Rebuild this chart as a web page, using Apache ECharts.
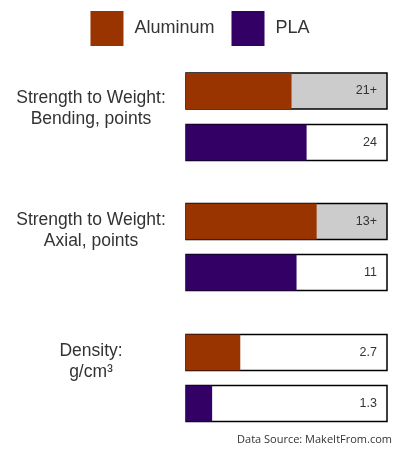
<!DOCTYPE html>
<html>
<head>
<meta charset="utf-8">
<script src="https://cdn.jsdelivr.net/npm/echarts@6/dist/echarts.min.js"></script>
<style>
  html, body { margin: 0; padding: 0; background: #fff; }
  #main { width: 400px; height: 450px; }
</style>
</head>
<body>
<div id="main"></div>
<script>
// material comparison: aluminum vs PLA
var groupNames = ['Strength to Weight:\nBending, points', 'Strength to Weight:\nAxial, points', 'Density:\ng/cm³'];
var aluminum = [21, 13, 2.7];
var pla = [24, 11, 1.3];
var aluminumLabels = ['21+', '13+', '2.7'];
var plaLabels = ['24', '11', '1.3'];
var scaleMax = [40, 20, 10];
var aluminumOpenRange = [true, true, false];

var dom = document.getElementById('main');
var myChart = echarts.init(dom, null, { renderer: 'canvas' });

var barTops = [73, 124.5, 203.5, 254.5, 334.5, 385.5];
var titleY = [109, 231, 362];
var colors = { Aluminum: '#993300', PLA: '#330066' };

var grids = [], xAxes = [], yAxes = [], series = [], graphics = [];

groupNames.forEach(function (name, g) {
    [['Aluminum', aluminum[g], aluminumLabels[g], aluminumOpenRange[g]],
     ['PLA', pla[g], plaLabels[g], false]].forEach(function (row, k) {
        var i = g * 2 + k;
        grids.push({ left: 186, width: 201, top: barTops[i], height: 36 });
        xAxes.push({
            type: 'value', gridIndex: i, min: 0, max: scaleMax[g], show: false
        });
        yAxes.push({
            type: 'category', gridIndex: i, data: [row[2]], position: 'right', z: 10,
            axisLine: { show: false }, axisTick: { show: false },
            axisLabel: { inside: true, margin: 10, color: '#333', fontSize: 12.5, fontFamily: 'Liberation Sans' }
        });
        series.push({
            name: row[0], type: 'bar', xAxisIndex: i, yAxisIndex: i,
            data: [row[1]], barWidth: 36, silent: true,
            itemStyle: { color: colors[row[0]] },
            showBackground: true,
            backgroundStyle: {
                color: row[3] ? '#cccccc' : '#ffffff',
                borderColor: '#000', borderWidth: 1.5, opacity: 1
            }
        });
    });
    graphics.push({
        type: 'text', x: 91, y: titleY[g],
        style: {
            text: name, fill: '#333', font: '17.5px "Liberation Sans"',
            textAlign: 'center', textVerticalAlign: 'middle', lineHeight: 21
        }
    });
});

graphics.push({
    type: 'text', x: 392, y: 440,
    style: {
        text: 'Data Source: MakeItFrom.com', fill: '#333', font: '11px "Open Sans"',
        textAlign: 'right', textVerticalAlign: 'middle'
    }
});

var option = {
    backgroundColor: '#fff',
    animation: false,
    legend: {
        data: ['Aluminum', 'PLA'], top: 6, left: 'center',
        icon: 'rect', itemWidth: 33, itemHeight: 35, itemGap: 17,
        textStyle: { fontSize: 18, color: '#333', fontFamily: 'Liberation Sans', padding: [0, 0, 0, 6] },
        selectedMode: false
    },
    grid: grids,
    xAxis: xAxes,
    yAxis: yAxes,
    series: series,
    graphic: graphics
};

myChart.setOption(option);
</script>
</body>
</html>
